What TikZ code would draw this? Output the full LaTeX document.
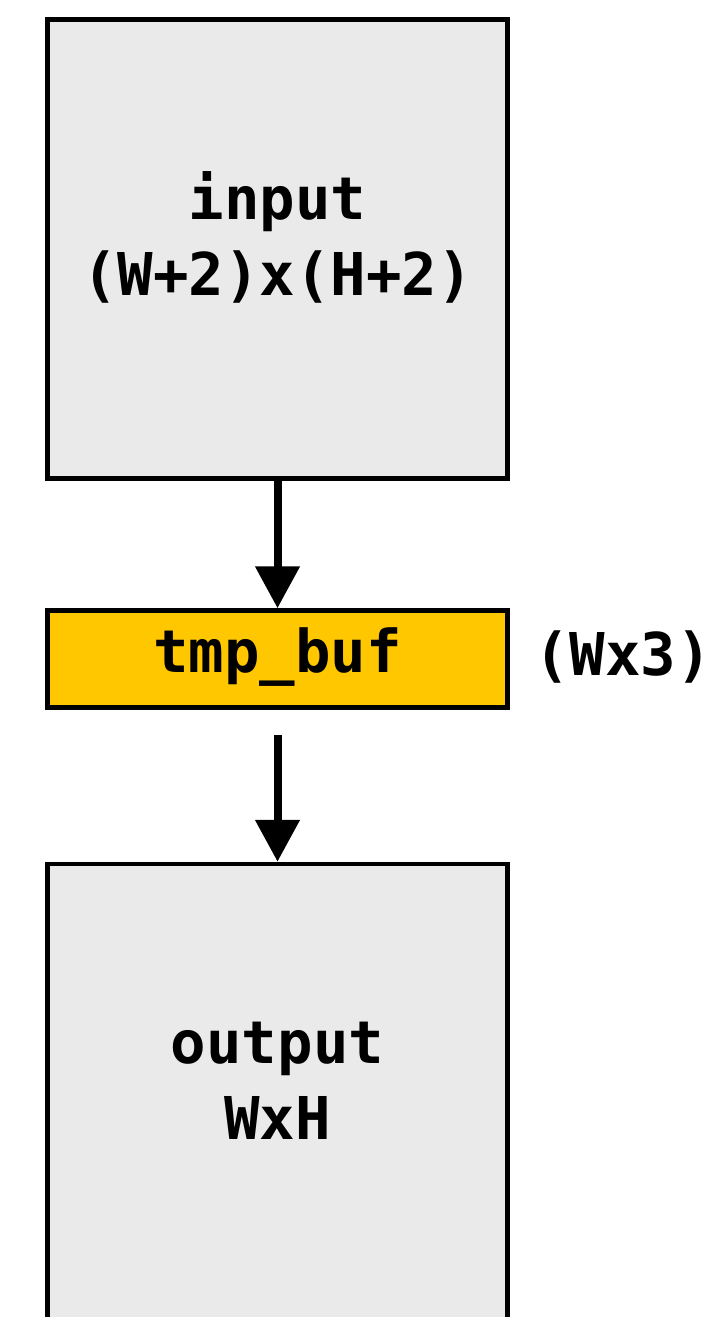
\documentclass[tikz,border=0pt]{standalone}
\usepackage{fontspec}
\setmonofont{DejaVu Sans Mono}
\usetikzlibrary{arrows.meta}
\definecolor{boxgray}{HTML}{EAEAEA}
\definecolor{bufgold}{HTML}{FFC700}
\begin{document}
\begin{tikzpicture}[x=1pt,y=-1pt,
  lbl/.style={font=\fontsize{59}{76}\selectfont\ttfamily\bfseries, align=center, inner sep=0pt},
  blockbox/.style={draw=black, line width=4.5pt, inner sep=0pt, minimum width=460pt},
  flow/.style={line width=8pt, -{Triangle[width=43pt,length=42pt]}}]
  \useasboundingbox (0,0) rectangle (712,1317);
  \clip (0,0) rectangle (712,1317);
  % buffers
  \node[blockbox, fill=boxgray, minimum height=459pt] (in) at (277.5,249) {};
  \node[blockbox, fill=bufgold, minimum height=97pt] (tmp) at (277.5,659) {};
  \node[blockbox, fill=boxgray, minimum height=476pt] (out) at (277.5,1102) {};
  % labels
  \node[lbl] (inlbl) at (277.5,237) {input\\(W+2)x(H+2)};
  \node[lbl] (tmplbl) at (277.5,657) {tmp\_buf};
  \node[lbl] (dim) at (623,657) {(Wx3)};
  \node[lbl] (outlbl) at (277.5,1081) {output\\WxH};
  % data flow
  \draw[flow] (in.south) -- (tmp.north);
  \draw[flow] ([yshift=-25pt]tmp.south) -- (out.north);
\end{tikzpicture}
\end{document}
